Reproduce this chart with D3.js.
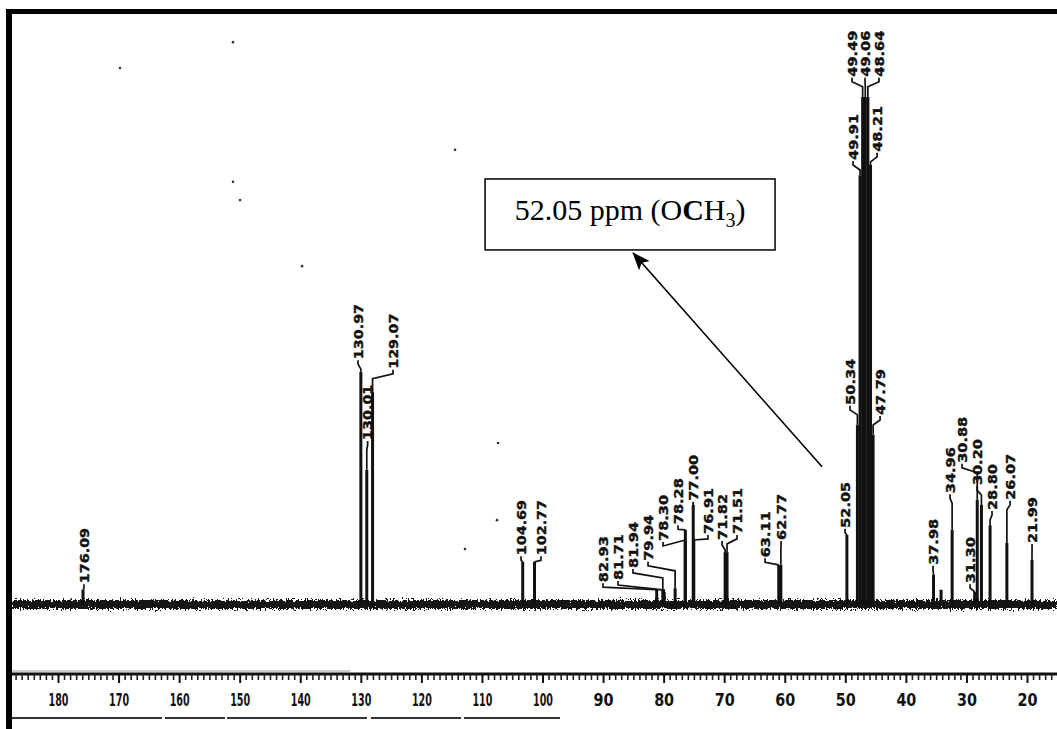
<!DOCTYPE html>
<html lang="en">
<head>
    <meta charset="UTF-8">
    <title>13C NMR spectrum</title>
    <script src="https://cdn.jsdelivr.net/npm/d3@7/dist/d3.min.js"></script>
    <style>
        body { margin: 0; background: #fff; }
        .peak { stroke: #111; stroke-width: 3; }
        .leader { fill: none; stroke: #111; stroke-width: 1.7; }
        .plabel { font-family: "DejaVu Sans", sans-serif; font-weight: bold; font-size: 13px; fill: #111; stroke: #111; stroke-width: 0.4; }
        .rule text { font-family: "DejaVu Sans Condensed", "DejaVu Sans", sans-serif; font-weight: bold; font-size: 17px; fill: #111; }
    </style>
</head>
<body>
<svg id="chart" width="1057" height="729"></svg>
<script>
    // peaks: chemical shift (ppm) and relative height (tallest = 100)
    const peakPpm = [176.09, 130.97, 130.01, 129.07, 104.69, 102.77, 82.93, 81.71, 81.94, 79.94,
        78.30, 78.28, 77.00, 76.91, 71.82, 71.51, 63.11, 62.77, 52.05, 50.34, 49.91, 49.49, 49.06,
        48.64, 48.21, 47.79, 37.98, 36.76, 34.96, 31.30, 30.88, 30.20, 28.80, 26.07, 21.99];
    const peakHeight = [3.0, 45.9, 26.6, 41.9, 8.5, 8.5, 3.0, 2.6, 3.0, 3.3,
        12.8, 14.8, 19.7, 12.8, 10.4, 10.4, 7.9, 7.9, 13.8, 35.4, 84.6, 100, 100,
        100, 86.6, 33.5, 5.9, 3.0, 14.8, 2.6, 20.7, 19.7, 15.7, 12.2, 8.9];

    // peak labels as printed, and where each one sits (ppm, height units)
    const labelText = ["176.09", "130.97", "130.01", "129.07", "104.69", "102.77", "82.93", "81.71",
        "81.94", "79.94", "78.30", "78.28", "77.00", "76.91", "71.82", "71.51", "63.11", "62.77",
        "52.05", "50.34", "49.91", "49.49", "49.06", "48.64", "48.21", "47.79", "37.98", "34.96",
        "31.30", "30.88", "30.20", "28.80", "26.07", "21.99"];
    const labelPpm = [175.93, 131.43, 129.87, 125.75, 104.96, 101.72, 91.65, 89.21,
        86.78, 84.34, 81.90, 79.47, 77.03, 74.60, 72.32, 69.89, 65.34, 62.74,
        52.35, 51.54, 51.05, 51.21, 49.10, 46.83, 47.15, 46.66, 38.06, 35.30,
        32.05, 33.35, 30.91, 28.48, 25.55, 21.98];
    const labelLevel = [4.3, 48.4, 32.5, 46.5, 9.8, 9.8, 4.5, 4.9,
        7.3, 8.7, 12.6, 15.9, 20.5, 14.0, 12.8, 14.0, 9.4, 12.8,
        15.2, 39.4, 87.6, 104.0, 104.0, 104.0, 89.2, 37.4, 7.9, 22.0,
        4.3, 28.0, 23.6, 18.7, 20.7, 12.2];

    // ruler
    const ruleTicks = [180, 170, 160, 150, 140, 130, 120, 110, 100, 90, 80, 70, 60, 50, 40, 30, 20];

    // scan specks (ppm, height units)
    const speckPpm = [170.08, 151.73, 151.73, 150.59, 140.52, 115.68, 108.70, 108.86, 114.06];
    const speckLevel = [105.7, 110.8, 83.3, 79.7, 66.7, 89.6, 31.9, 16.7, 11.0];

    // annotation: arrow from near the 52.05 peak up to the note box
    const noteFrom = [56.08, 27.2];
    const noteTo = [86.77, 69.3];

    const svg = d3.select("#chart");
    const x = d3.scaleLinear().domain([176.09, 21.99]).range([83, 1032]);
    const xRule = d3.scaleLinear().domain([180, 20]).range([58, 1027]);
    const y = d3.scaleLinear().domain([0, 100]).range([605, 97]);

    const defs = svg.append("defs");
    const f = defs.append("filter").attr("id", "rough")
        .attr("filterUnits", "userSpaceOnUse")
        .attr("x", 0).attr("y", 580).attr("width", 1057).attr("height", 50);
    f.append("feTurbulence").attr("type", "fractalNoise").attr("baseFrequency", "0.6 0.4")
        .attr("numOctaves", 2).attr("seed", 4).attr("result", "n");
    f.append("feDisplacementMap").attr("in", "SourceGraphic").attr("in2", "n")
        .attr("scale", 9).attr("xChannelSelector", "R").attr("yChannelSelector", "G");

    defs.append("marker").attr("id", "head")
        .attr("markerUnits", "userSpaceOnUse")
        .attr("viewBox", "0 0 18 14").attr("markerWidth", 18).attr("markerHeight", 14)
        .attr("refX", 17).attr("refY", 7).attr("orient", "auto")
        .append("path").attr("d", "M0,0 L18,7 L0,14 L4,7 Z").attr("fill", "#000");

    // frame (scan edge)
    svg.append("rect").attr("x", 6).attr("y", 9).attr("width", 1051).attr("height", 5).attr("fill", "#000");
    svg.append("rect").attr("x", 6).attr("y", 9).attr("width", 6).attr("height", 720).attr("fill", "#000");

    // noisy baseline
    svg.append("rect").attr("x", 12).attr("y", y(0) - 5).attr("width", 1045).attr("height", 9)
        .attr("fill", "#151515").attr("filter", "url(#rough)");

    // peaks
    svg.append("g").selectAll("line")
        .data(peakPpm)
        .join("line")
        .attr("class", "peak")
        .attr("x1", d => x(d)).attr("x2", d => x(d))
        .attr("y1", y(0))
        .attr("y2", (d, i) => y(peakHeight[i]));

    // labels with leaders
    const labels = labelText.map((t, i) => {
        const p = peakPpm.indexOf(+t);
        return {
            text: t,
            xl: x(labelPpm[i]), yl: y(labelLevel[i]),
            xp: x(+t), yp: y(peakHeight[p])
        };
    });

    svg.append("g").selectAll("path")
        .data(labels)
        .join("path")
        .attr("class", "leader")
        .attr("d", d => {
            const mid = Math.min(d.yp, d.yl + 10);
            return d3.line()([[d.xl, d.yl + 1], [d.xl, d.yl + 5], [d.xp, mid], [d.xp, d.yp]]);
        });

    svg.append("g").selectAll("text")
        .data(labels)
        .join("text")
        .attr("class", "plabel")
        .attr("transform", d => `translate(${d.xl},${d.yl}) rotate(-90)`)
        .attr("dy", "0.36em")
        .attr("textLength", d => d.text.length * 9.2)
        .attr("lengthAdjust", "spacingAndGlyphs")
        .text(d => d.text);

    // specks
    svg.append("g").selectAll("circle")
        .data(speckPpm)
        .join("circle")
        .attr("cx", d => x(d))
        .attr("cy", (d, i) => y(speckLevel[i]))
        .attr("r", 1.3)
        .attr("fill", "#333");

    // ruler
    const ruleY = 674;
    svg.append("line").attr("x1", 12).attr("x2", 1057).attr("y1", ruleY).attr("y2", ruleY)
        .attr("stroke", "#111").attr("stroke-width", 3);
    svg.append("line").attr("x1", 12).attr("x2", 350).attr("y1", ruleY - 3).attr("y2", ruleY - 3)
        .attr("stroke", "#999").attr("stroke-width", 1);

    const minor = d3.range(16, 188).filter(v => v % 10 !== 0);
    svg.append("g").attr("transform", `translate(0,${ruleY})`)
        .call(d3.axisBottom(xRule).tickValues(minor).tickSize(6).tickFormat(""))
        .call(g => g.select(".domain").remove())
        .call(g => g.selectAll("line").attr("stroke", "#222").attr("stroke-width", 1.6));

    const major = svg.append("g").attr("class", "rule").attr("transform", `translate(0,${ruleY})`)
        .call(d3.axisBottom(xRule).tickValues(ruleTicks).tickSize(9).tickPadding(11).tickFormat(d3.format("d")))
        .call(g => g.select(".domain").remove())
        .call(g => g.selectAll("line").attr("stroke", "#111").attr("stroke-width", 2));
    major.selectAll("text")
        .attr("textLength", 20).attr("lengthAdjust", "spacingAndGlyphs");

    svg.append("line").attr("x1", 12).attr("x2", 560).attr("y1", 718).attr("y2", 718)
        .attr("stroke", "#333").attr("stroke-width", 2)
        .attr("stroke-dasharray", "150 3 60 2 140 4 90 3 100");

    // annotation
    const tipX = x(noteTo[0]), tipY = y(noteTo[1]);
    svg.append("line")
        .attr("x1", x(noteFrom[0])).attr("y1", y(noteFrom[1]))
        .attr("x2", tipX).attr("y2", tipY)
        .attr("stroke", "#000").attr("stroke-width", 1.6)
        .attr("marker-end", "url(#head)");

    const boxW = 290, boxH = 71;
    const bx = tipX - 3 - boxW / 2, by = tipY - 3 - boxH;
    svg.append("rect").attr("x", bx).attr("y", by).attr("width", boxW).attr("height", boxH)
        .attr("fill", "#fff").attr("stroke", "#000").attr("stroke-width", 1.5);

    const note = svg.append("text")
        .attr("x", bx + boxW / 2).attr("y", by + 41)
        .attr("text-anchor", "middle")
        .style("font-family", "'Liberation Serif', 'Times New Roman', serif")
        .style("font-size", "30px").attr("fill", "#000");
    note.append("tspan").text("52.05 ppm (O");
    note.append("tspan").style("font-weight", "bold").text("C");
    note.append("tspan").text("H");
    note.append("tspan").style("font-size", "20px").attr("dy", 7).text("3");
    note.append("tspan").attr("dy", -7).text(")");
</script>
</body>
</html>
